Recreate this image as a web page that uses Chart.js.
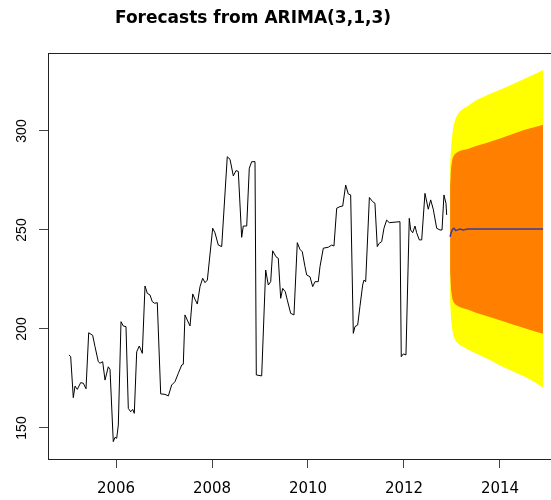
<!DOCTYPE html>
<html>
<head>
<meta charset="utf-8">
<script src="https://cdn.jsdelivr.net/npm/chart.js@4/dist/chart.umd.min.js"></script>
<style>
  html, body { margin: 0; padding: 0; background: #fff; overflow: hidden; }
  #wrap { width: 551px; height: 500px; }
</style>
</head>
<body>
<div id="wrap"><canvas id="c" width="551" height="500"></canvas></div>
<script>
const chartTitle = 'Forecasts from ARIMA(3,1,3)';

// observed weekly series (turning points), decimal years
const histYears = [
  2005.021, 2005.056, 2005.110, 2005.146, 2005.194, 2005.264, 2005.319, 2005.375, 2005.431, 2005.514,
  2005.562, 2005.631, 2005.666, 2005.722, 2005.771, 2005.839, 2005.875, 2005.943, 2005.979, 2006.014,
  2006.048, 2006.104, 2006.152, 2006.208, 2006.256, 2006.306, 2006.348, 2006.381, 2006.431, 2006.485,
  2006.548, 2006.604, 2006.652, 2006.708, 2006.756, 2006.806, 2006.860, 2006.931, 2007.021, 2007.090,
  2007.160, 2007.229, 2007.298, 2007.369, 2007.402, 2007.437, 2007.485, 2007.542, 2007.598, 2007.646,
  2007.694, 2007.750, 2007.806, 2007.854, 2007.903, 2008.014, 2008.062, 2008.131, 2008.202, 2008.318,
  2008.375, 2008.444, 2008.500, 2008.548, 2008.618, 2008.652, 2008.723, 2008.777, 2008.827, 2008.896,
  2008.923, 2009.035, 2009.118, 2009.173, 2009.223, 2009.264, 2009.333, 2009.381, 2009.431, 2009.473,
  2009.527, 2009.569, 2009.639, 2009.708, 2009.777, 2009.833, 2009.881, 2009.937, 2009.973, 2010.041,
  2010.098, 2010.146, 2010.214, 2010.250, 2010.319, 2010.423, 2010.494, 2010.541, 2010.598, 2010.666,
  2010.723, 2010.785, 2010.839, 2010.889, 2010.944, 2010.979, 2011.035, 2011.083, 2011.139, 2011.166,
  2011.202, 2011.279, 2011.347, 2011.395, 2011.443, 2011.485, 2011.535, 2011.583, 2011.639, 2011.693,
  2011.916, 2011.943, 2011.985, 2012.041, 2012.110, 2012.139, 2012.181, 2012.229, 2012.264, 2012.319,
  2012.369, 2012.437, 2012.506, 2012.556, 2012.610, 2012.681, 2012.750, 2012.792, 2012.833, 2012.875,
  2012.889
];
const histValues = [
  186.9, 186.0, 165.3, 171.2, 169.5, 172.9, 172.6, 169.8, 198.1, 196.8,
  191.1, 183.5, 182.7, 183.5, 174.2, 180.9, 179.6, 143.1, 145.3, 144.8,
  151.5, 203.7, 201.5, 201.2, 159.9, 158.2, 159.4, 157.4, 188.5, 191.4,
  187.7, 221.7, 218.0, 217.2, 213.8, 213.0, 213.3, 167.2, 167.0, 166.2,
  171.7, 173.4, 177.6, 181.8, 182.2, 207.1, 204.5, 201.5, 217.7, 215.0,
  212.6, 221.4, 225.6, 223.4, 224.7, 250.9, 248.6, 242.4, 241.6, 287.0,
  285.7, 277.3, 280.0, 279.6, 246.3, 252.0, 252.0, 281.2, 284.5, 284.5,
  176.8, 176.3, 229.8, 222.2, 223.9, 239.5, 236.5, 235.7, 215.5, 220.5,
  218.8, 214.6, 207.9, 207.1, 243.6, 240.2, 239.0, 231.5, 227.3, 226.4,
  221.4, 223.9, 223.9, 231.5, 240.8, 241.3, 242.4, 241.9, 261.0, 261.8,
  262.1, 272.7, 268.2, 267.7, 197.8, 201.2, 202.0, 211.5, 222.2, 224.7,
  223.9, 266.4, 264.3, 263.5, 241.6, 243.3, 244.1, 250.9, 255.0, 253.7,
  254.2, 186.0, 187.4, 186.9, 255.9, 250.0, 248.6, 252.0, 248.6, 245.0,
  245.0, 268.5, 260.5, 265.2, 260.5, 250.9, 250.0, 250.0, 267.7, 263.5,
  257.6
];

// forecast horizon, point forecast and prediction intervals
const fcYears  = [2012.96, 2012.98, 2013.01, 2013.04, 2013.08, 2013.13, 2013.17, 2013.23, 2013.33, 2013.50, 2013.75, 2014.00, 2014.25, 2014.50, 2014.75, 2014.90];
const fcMean   = [246.6, 248.5, 250.3, 250.9, 249.7, 250.2, 250.5, 250.0, 250.5, 250.5, 250.5, 250.5, 250.5, 250.5, 250.5, 250.5];
const fcHi95   = [283.0, 291.0, 299.0, 303.5, 306.5, 308.8, 310.0, 311.2, 312.6, 315.5, 318.3, 320.8, 323.5, 326.2, 329.0, 330.8];
const fcHi80   = [272.0, 281.0, 286.0, 287.8, 288.8, 289.5, 290.0, 290.4, 290.9, 292.4, 294.2, 296.2, 298.3, 300.5, 302.2, 303.2];
const fcLo80   = [229.0, 220.0, 215.0, 213.2, 212.2, 211.5, 211.0, 210.5, 209.8, 208.2, 206.3, 204.4, 202.4, 200.5, 198.6, 197.6];
const fcLo95   = [214.0, 205.0, 199.0, 196.0, 193.8, 192.5, 191.8, 191.0, 189.6, 187.6, 184.8, 181.5, 178.8, 176.1, 172.8, 170.2];

const xTickValues = [2006, 2008, 2010, 2012, 2014];
const yTickValues = [150, 200, 250, 300];

const pts = (xs, ys) => xs.map((x, i) => ({ x: x, y: ys[i] }));

// top edge of the plot box
const frameTop = {
  id: 'frameTop',
  afterDraw(chart) {
    const { ctx, chartArea: a } = chart;
    ctx.save();
    ctx.strokeStyle = '#222';
    ctx.lineWidth = 1;
    ctx.beginPath();
    ctx.moveTo(a.left, Math.round(a.top) + 0.5);
    ctx.lineTo(a.right, Math.round(a.top) + 0.5);
    ctx.stroke();
    ctx.restore();
  }
};

// centre the title over x = 253
const titleCentreX = 253;
const titlePlace = {
  id: 'titlePlace',
  afterLayout(chart) {
    const t = chart.titleBlock;
    if (!t) return;
    t.left = 0;
    t.right = titleCentreX * 2;
    t.width = titleCentreX * 2;
  }
};

const noLine = 'rgba(0,0,0,0)';

new Chart(document.getElementById('c'), {
  type: 'line',
  data: {
    datasets: [
      { label: 'observed', data: pts(histYears, histValues), borderColor: '#000', borderWidth: 1,
        pointRadius: 0, fill: false, order: 2 },
      { label: 'forecast', data: pts(fcYears, fcMean), borderColor: '#3b3a9e', borderWidth: 1.5,
        pointRadius: 0, fill: false, order: 1 },
      { label: 'hi95', data: pts(fcYears, fcHi95), borderColor: noLine, borderWidth: 0,
        pointRadius: 0, fill: 3, backgroundColor: '#ffff00', order: 10 },
      { label: 'lo95', data: pts(fcYears, fcLo95), borderColor: noLine, borderWidth: 0,
        pointRadius: 0, fill: false, order: 9 },
      { label: 'hi80', data: pts(fcYears, fcHi80), borderColor: noLine, borderWidth: 0,
        pointRadius: 0, fill: 5, backgroundColor: '#ff8000', order: 8 },
      { label: 'lo80', data: pts(fcYears, fcLo80), borderColor: noLine, borderWidth: 0,
        pointRadius: 0, fill: false, order: 7 }
    ]
  },
  options: {
    responsive: false,
    devicePixelRatio: 1,
    animation: false,
    events: [],
    layout: { padding: 0 },
    plugins: {
      legend: { display: false },
      tooltip: { enabled: false },
      title: {
        display: true,
        text: chartTitle,
        color: '#000',
        font: { family: 'DejaVu Sans', size: 17, weight: 'bold' },
        padding: { top: 8, bottom: 24.6 }
      }
    },
    scales: {
      x: {
        type: 'linear',
        min: 2004.583,
        max: 2015.063,
        afterBuildTicks: s => { s.ticks = xTickValues.map(v => ({ value: v })); },
        afterFit: s => { s.height = 41; },
        ticks: {
          callback: v => String(v),
          autoSkip: false,
          maxRotation: 0,
          padding: 12,
          color: '#000',
          font: { family: 'DejaVu Sans', size: 15 }
        },
        grid: { drawOnChartArea: false, drawTicks: true, tickLength: 9, tickColor: '#444', color: '#444' },
        border: { display: true, color: '#222', width: 1 }
      },
      y: {
        type: 'linear',
        min: 134.34,
        max: 339.39,
        afterBuildTicks: s => { s.ticks = yTickValues.map(v => ({ value: v })); },
        afterFit: s => { s.width = 48; },
        ticks: {
          callback: v => String(v),
          minRotation: 90,
          maxRotation: 90,
          crossAlign: 'center',
          padding: 5,
          color: '#000',
          font: { family: 'Liberation Sans', size: 14 }
        },
        grid: { drawOnChartArea: false, drawTicks: true, tickLength: 9, tickColor: '#444', color: '#444' },
        border: { display: true, color: '#222', width: 1 }
      }
    }
  },
  plugins: [titlePlace, frameTop]
});
</script>
</body>
</html>
